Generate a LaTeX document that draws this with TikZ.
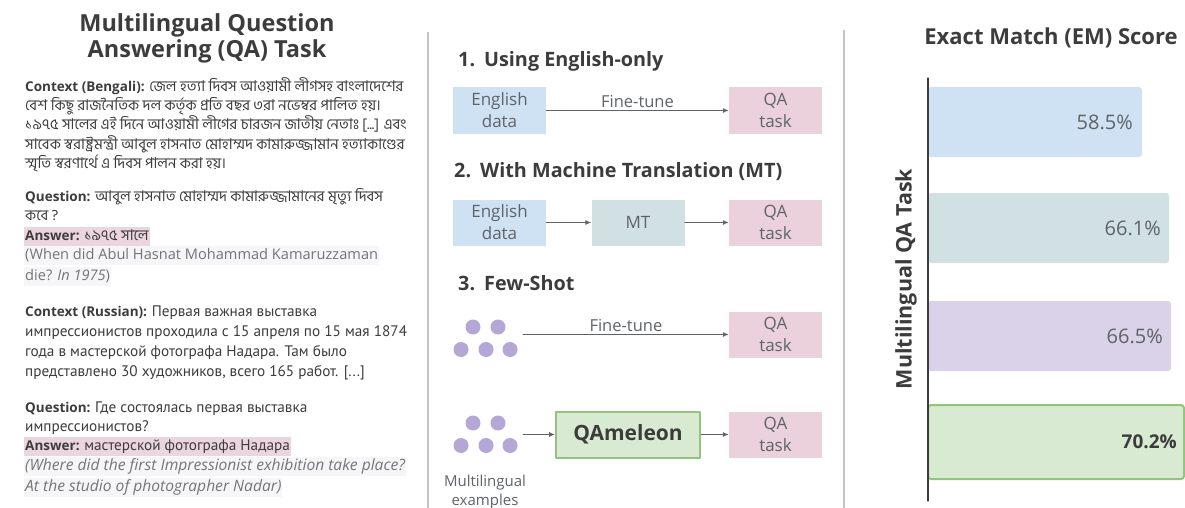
\documentclass[tikz,border=0pt]{standalone}
\usepackage{fontspec}
\setmainfont{Open Sans}
\newfontfamily\rufont[Scale=1.13]{PT Sans}
\newfontfamily\bnfont[Script=Bengali, Scale=1.1]{Hind Siliguri}
\usetikzlibrary{arrows.meta,positioning}

\definecolor{ink}{HTML}{3C3C3C}
\definecolor{soft}{HTML}{5F6368}
\definecolor{faded}{HTML}{757575}
\definecolor{sepgray}{HTML}{C6C6C6}
\definecolor{blueish}{HTML}{CFE2F3}
\definecolor{pinkish}{HTML}{EAD1DC}
\definecolor{tealish}{HTML}{D0E0E3}
\definecolor{lilac}{HTML}{D9D2E9}
\definecolor{dotpurple}{HTML}{B4A7D6}
\definecolor{greenfill}{HTML}{D9EAD3}
\definecolor{greenline}{HTML}{93C47D}
\definecolor{hlpink}{HTML}{EBD5DF}
\definecolor{hlgray}{HTML}{F6F6F8}

\begin{document}
\begin{tikzpicture}[x=1pt, y=-1pt, >={Latex[length=6pt,width=5pt]},
  line cap=round, line join=round,
  ln/.style={anchor=base west, inner sep=0pt, text=ink,
    font=\fontsize{13.5}{16}\selectfont},
  transl/.style={ln, text=faded, fill=hlgray, inner xsep=1pt,
    text height=11pt, text depth=4pt, inner ysep=2pt,
    font=\fontsize{14.6}{16}\selectfont},
  answer/.style={ln, fill=hlpink, inner xsep=1pt,
    text height=11pt, text depth=4pt, inner ysep=2pt},
  bigtitle/.style={align=center, text=ink, inner sep=0pt,
    font=\bfseries\fontsize{23.5}{26}\selectfont},
  steptitle/.style={anchor=west, text=ink, inner sep=0pt,
    font=\bfseries\fontsize{19.8}{22}\selectfont},
  box/.style={minimum width=93pt, minimum height=46pt, inner sep=0pt,
    align=center, text=soft, font=\fontsize{17}{22}\selectfont},
  databox/.style={box, fill=blueish},
  qabox/.style={box, fill=pinkish},
  mtbox/.style={box, fill=tealish},
  flow/.style={draw=soft, line width=0.9pt},
  tune/.style={text=soft, font=\fontsize{16.5}{18}\selectfont, inner sep=2pt},
  dot/.style={fill=dotpurple},
  sep/.style={draw=sepgray, line width=2.5pt, line cap=butt},
  bar/.style={rounded corners=3pt},
  barlbl/.style={anchor=east, text=soft, inner sep=0pt,
    font=\fontsize{20}{22}\selectfont}]

\useasboundingbox (0,0) rectangle (1185,508);

% ---------- Question answering examples ----------
\node[bigtitle] (qtitle) at (207,38) {Multilingual Question\\Answering (QA) Task};

\node[ln] (bn1) at (25,92) {\textbf{Context (Bengali):} \bnfont জেল হত্যা দিবস আওয়ামী লীগসহ বাংলাদেশের};
\node[ln] (bn2) at (25,111) {\bnfont বেশ কিছু রাজনৈতিক দল কর্তৃক প্রতি বছর ৩রা নভেম্বর পালিত হয়।};
\node[ln] (bn3) at (25,130) {\bnfont ১৯৭৫ সালের এই দিনে আওয়ামী লীগের চারজন জাতীয় নেতাঃ [...] এবং};
\node[ln] (bn4) at (25,149) {\bnfont সাবেক স্বরাষ্ট্রমন্ত্রী আবুল হাসনাত মোহাম্মদ কামারুজ্জামান হত্যাকাণ্ডের};
\node[ln] (bn5) at (25,168) {\bnfont স্মৃতি স্বরণার্থে এ দিবস পালন করা হয়।};

\node[ln] (bnq1) at (25,201) {\textbf{Question:} \bnfont আবুল হাসনাত মোহাম্মদ কামারুজ্জামানের মৃত্যু দিবস};
\node[ln] (bnq2) at (25,220) {\bnfont কবে ?};
\node[answer] (bnans) at (24,240) {\textbf{Answer:} \bnfont ১৯৭৫ সালে};
\node[transl] (bnen1) at (24,259) {(When did Abul Hasnat Mohammad Kamaruzzaman};
\node[transl] (bnen2) at (24,280) {die? \textit{In 1975})};

\node[ln] (ru1) at (25,316) {\textbf{Context (Russian):} \rufont Первая важная выставка};
\node[ln] (ru2) at (25,336) {\rufont импрессионистов проходила с 15 апреля по 15 мая 1874};
\node[ln] (ru3) at (25,356) {\rufont года в мастерской фотографа Надара. Там было};
\node[ln] (ru4) at (25,376) {\rufont представлено 30 художников, всего 165 работ. [...]};

\node[ln] (ruq1) at (25,412) {\textbf{Question:} \rufont Где состоялась первая выставка};
\node[ln] (ruq2) at (25,431) {\rufont импрессионистов?};
\node[answer] (ruans) at (24,450) {\textbf{Answer:} \rufont мастерской фотографа Надара};
\node[transl, font=\itshape\fontsize{15.6}{16}\selectfont] (ruen1) at (24,470) {(Where did the first Impressionist exhibition take place?};
\node[transl, font=\itshape\fontsize{15.6}{16}\selectfont] (ruen2) at (24,491) {At the studio of photographer Nadar)};

\draw[sep] (428,32) -- (428,508);

% ---------- Approaches ----------
\node[steptitle] (step1) at (458,61) {1.\hspace{9pt}Using English-only};
\node[databox] (eng1) at (499.5,110.5) {English\\data};
\node[qabox] (qa1) at (775.5,110.5) {QA\\task};
\draw[flow,->] (eng1) -- node[above, tune] (ft1) {Fine-tune} (qa1);

\node[steptitle] (step2) at (454,172) {2.\hspace{9pt}With Machine Translation (MT)};
\node[databox] (eng2) at (499.5,222.5) {English\\data};
\node[mtbox] (mt) at (638,222.5) {MT};
\node[qabox] (qa2) at (775.5,222.5) {QA\\task};
\draw[flow,->] (eng2) -- (mt);
\draw[flow,->] (mt) -- (qa2);

\node[steptitle] (step3) at (458,283) {3.\hspace{9pt}Few-Shot};
\foreach \y [count=\r] in {327,423}{
  \fill[dot] (473,\y) circle (7.5);
  \fill[dot] (498,\y) circle (7.5);
  \fill[dot] (461,\y+22.5) circle (7.5);
  \fill[dot] (486,\y+22.5) circle (7.5);
  \fill[dot] (510,\y+22.5) circle (7.5);
}
\coordinate (shots1) at (523,334.5);
\coordinate (shots2) at (523,434.5);
\node[qabox] (qa3) at (775.5,334.5) {QA\\task};
\draw[flow,->] (shots1) -- node[above, tune] (ft3) {Fine-tune} (qa3);

\node[box, fill=greenfill, draw=greenline, line width=2pt, minimum width=144pt,
  minimum height=46pt, text=ink, font=\bfseries\fontsize{21}{22}\selectfont]
  (qam) at (628,434.5) {QAmeleon};
\node[qabox] (qa4) at (775.5,434.5) {QA\\task};
\draw[flow,->] (shots2) -- (qam);
\draw[flow,->] (qam) -- (qa4);
\node[align=center, text=soft, inner sep=0pt, font=\fontsize{15}{19}\selectfont]
  (multi) at (485,492) {Multilingual\\examples};

\draw[sep] (844,30) -- (844,508);

% ---------- EM scores ----------
\node[text=ink, inner sep=0pt, font=\bfseries\fontsize{22}{24}\selectfont]
  (emtitle) at (1051,38) {Exact Match (EM) Score};
\node[rotate=90, text=ink, inner sep=0pt, font=\bfseries\fontsize{21.5}{24}\selectfont]
  (ylab) at (906,279) {Multilingual QA Task};

\fill[bar, blueish] (928,87) rectangle (1142,157);
\fill[bar, tealish] (928,193) rectangle (1169,263);
\fill[bar, lilac] (928,301) rectangle (1171,371);
\draw[bar, fill=greenfill, draw=greenline, line width=2pt] (928,405) rectangle (1184,479);
\draw[ink, line width=1.2pt] (928,78) -- (928,501);

\node[barlbl] (em1) at (1133,122) {58.5\%};
\node[barlbl] (em2) at (1161,228) {66.1\%};
\node[barlbl] (em3) at (1163,336) {66.5\%};
\node[barlbl, text=ink, font=\bfseries\fontsize{19}{22}\selectfont] (em4) at (1177,442) {70.2\%};

\end{tikzpicture}
\end{document}
